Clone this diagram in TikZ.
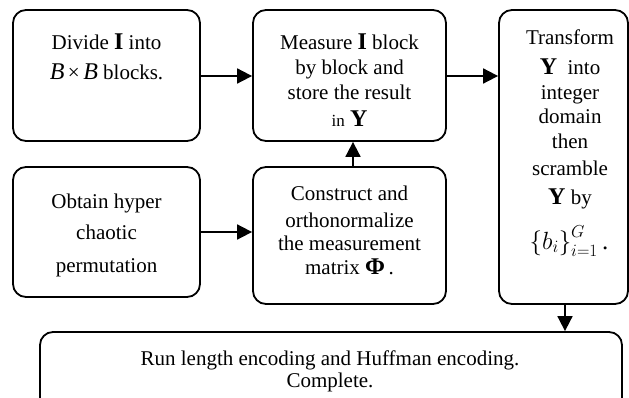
\documentclass[tikz,border=0pt]{standalone}
\usepackage{fontspec}
\setmainfont{Liberation Serif}
\usetikzlibrary{arrows.meta}
\newcommand{\bigbf}[1]{{\fontsize{24}{24}\selectfont\bfseries #1}}
\newcommand{\bigit}[1]{{\fontsize{24}{24}\selectfont\itshape #1}}
\begin{document}
\begin{tikzpicture}[x=1pt,y=-1pt,
  box/.style={draw, line width=1.8pt, rounded corners=13pt, inner sep=0pt},
  txt/.style={anchor=base, inner sep=0pt, font=\fontsize{21}{25}\selectfont},
  arr/.style={line width=1.8pt, -{Triangle[length=15pt,width=15pt]}}]
\path[use as bounding box] (0,0) rectangle (629,398);
\clip (0,0) rectangle (629,398);
% boxes
\node[box, minimum width=187pt, minimum height=131pt] (A) at (106.5,75.5) {};
\node[box, minimum width=193pt, minimum height=131pt] (B) at (349.5,75.5) {};
\node[box, minimum width=129pt, minimum height=294pt] (C) at (563.5,157) {};
\node[box, minimum width=187pt, minimum height=130pt] (D) at (106.5,232) {};
\node[box, minimum width=193pt, minimum height=137pt] (E) at (349.5,235.5) {};
\node[box, minimum width=582pt, minimum height=98pt] (F) at (331,381) {};
% texts A
\node[txt] (a1) at (106.5,50) {Divide \bigbf{I} into};
\node[txt] (a2) at (106.5,80) {\bigit{B}\,×\,\bigit{B} blocks.};
% texts B
\node[txt] (b1) at (349.5,50) {Measure \bigbf{I} block};
\node[txt] (b2) at (349.5,75) {by block and};
\node[txt] (b3) at (349.5,100) {store the result};
\node[txt] (b4) at (349.5,127) {{\fontsize{17}{17}\selectfont in} \bigbf{Y}};
% texts C
\node[txt] (c1) at (570,45) {Transform};
\node[txt] (c2) at (570,75) {\bigbf{Y}~ into};
\node[txt] (c3) at (570,100) {integer};
\node[txt] (c4) at (570,124) {domain};
\node[txt] (c5) at (570,149) {then};
\node[txt] (c6) at (570,176) {scramble};
\node[txt] (c7) at (570,205) {\bigbf{Y} by};
\node[txt, font=\fontsize{25}{25}\selectfont] (c8) at (569,249) {$\bigl\{b_i\bigr\}_{i=1}^{G}$\,.};
% texts D
\node[txt] (d1) at (106.5,208) {Obtain hyper};
\node[txt] (d2) at (106.5,240) {chaotic};
\node[txt] (d3) at (106.5,272) {permutation};
% texts E
\node[txt] (e1) at (349.5,201) {Construct and};
\node[txt] (e2) at (349.5,227) {orthonormalize};
\node[txt] (e3) at (349.5,251) {the measurement};
\node[txt] (e4) at (349.5,274) {matrix \bigbf{Φ}\,.};
% texts F
\node[txt] (f1) at (330,365) {Run length encoding and Huffman encoding.};
\node[txt] (f2) at (330,387) {Complete.};
% arrows
\draw[arr] (A.east |- 0,76) -- (B.west |- 0,76);
\draw[arr] (B.east |- 0,76) -- (C.west |- 0,76);
\draw[arr] (E.north -| 353,0) -- (B.south -| 353,0);
\draw[arr] (D.east |- 0,232) -- (E.west |- 0,232);
\draw[arr] (C.south -| 565,0) -- (F.north -| 565,0);
\end{tikzpicture}
\end{document}
